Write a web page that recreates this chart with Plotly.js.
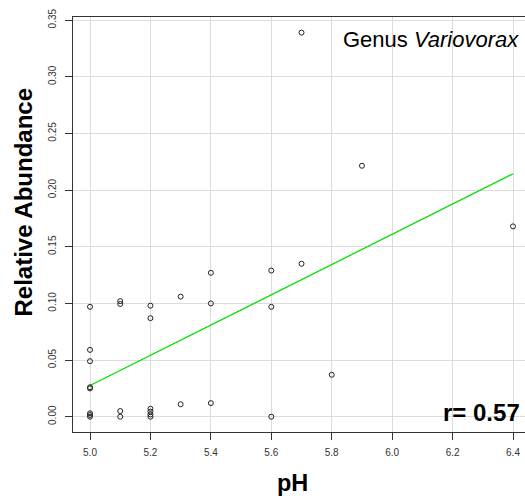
<!DOCTYPE html>
<html>
<head>
<meta charset="utf-8">
<script src="https://cdn.plot.ly/plotly-3.0.1.min.js"></script>
<style>html,body{margin:0;padding:0;background:#fff;}#chart{width:525px;height:499px;}</style>
</head>
<body>
<div id="chart"></div>
<script>
// Data (pH vs relative abundance of genus Variovorax)
const pH = [5.0,5.0,5.0,5.0,5.0,5.0,5.0,5.0,
            5.1,5.1,5.1,5.1,
            5.2,5.2,5.2,5.2,5.2,5.2,
            5.3,5.3,
            5.4,5.4,5.4,
            5.6,5.6,5.6,
            5.7,5.7,
            5.8,
            5.9,
            6.4];
const abundance = [0.097,0.059,0.049,0.026,0.025,0.003,0.0015,0.0,
                   0.102,0.0995,0.005,0.0,
                   0.098,0.087,0.007,0.0045,0.002,0.0,
                   0.106,0.011,
                   0.127,0.100,0.012,
                   0.129,0.097,0.0,
                   0.339,0.135,
                   0.037,
                   0.2215,
                   0.168];
const xTicks = [5.0,5.2,5.4,5.6,5.8,6.0,6.2,6.4];
const xTickText = ["5.0","5.2","5.4","5.6","5.8","6.0","6.2","6.4"];
const yTicks = [0.00,0.05,0.10,0.15,0.20,0.25,0.30,0.35];
const yTickText = ["0.00","0.05","0.10","0.15","0.20","0.25","0.30","0.35"];
const rLabel = "r= 0.57";

// Least-squares fit computed from the data
const n = pH.length;
const mx = pH.reduce((a,b)=>a+b,0)/n;
const my = abundance.reduce((a,b)=>a+b,0)/n;
let sxy = 0, sxx = 0;
for (let i=0;i<n;i++){ sxy += (pH[i]-mx)*(abundance[i]-my); sxx += (pH[i]-mx)*(pH[i]-mx); }
const slope = sxy/sxx, intercept = my - slope*mx;
const xMin = Math.min(...pH), xMax = Math.max(...pH);
const fitX = [xMin, xMax];
const fitY = fitX.map(x => intercept + slope*x);

const font = "Arial, 'Liberation Sans', Helvetica, sans-serif";

const traces = [
  {x: fitX, y: fitY, mode: 'lines', type: 'scatter',
   line: {color: '#00e000', width: 1.3}, hoverinfo: 'skip'},
  {x: pH, y: abundance, mode: 'markers', type: 'scatter',
   marker: {symbol: 'circle-open', size: 5, color: '#222', line: {width: 1, color: '#222'}}}
];

const layout = {
  width: 525, height: 499,
  margin: {l: 73, r: 0, t: 17, b: 67, pad: 0},
  paper_bgcolor: '#fff', plot_bgcolor: '#fff',
  showlegend: false,
  font: {family: font, color: '#333', size: 10},
  xaxis: {
    range: [4.9437, 6.4397], tickvals: xTicks, ticktext: xTickText,
    showgrid: true, gridcolor: '#dcdcdc', gridwidth: 1,
    zeroline: false, showline: true, linecolor: '#333', linewidth: 1, mirror: true,
    ticks: 'outside', ticklen: 7, tickcolor: '#333', tickwidth: 1,
    tickfont: {family: font, size: 10, color: '#333'}, ticklabelstandoff: 4
  },
  yaxis: {
    range: [-0.0135, 0.3528], tickvals: yTicks, ticktext: yTickText,
    showgrid: true, gridcolor: '#dcdcdc', gridwidth: 1,
    zeroline: false, showline: true, linecolor: '#333', linewidth: 1, mirror: false,
    ticks: 'outside', ticklen: 7, tickcolor: '#333', tickwidth: 1, tickangle: -90,
    tickfont: {family: font, size: 10, color: '#333'}, ticklabelstandoff: 5
  },
  annotations: [
    {text: 'Genus <i>Variovorax</i>', xref: 'paper', yref: 'paper', x: 0.991, y: 0.9458,
     xanchor: 'right', yanchor: 'middle', showarrow: false,
     font: {family: font, size: 22, color: '#000'}},
    {text: '<b>' + rLabel + '</b>', xref: 'paper', yref: 'paper', x: 0.9927, y: 0.0475,
     xanchor: 'right', yanchor: 'middle', showarrow: false,
     font: {family: font, size: 24, color: '#000'}},
    {text: '<b>pH</b>', xref: 'paper', yref: 'paper', x: 0.4856, y: -0.1224,
     xanchor: 'center', yanchor: 'middle', showarrow: false,
     font: {family: font, size: 23.5, color: '#000'}},
    {text: '<b>Relative Abundance</b>', xref: 'paper', yref: 'paper', x: -0.1084, y: 0.553,
     xanchor: 'center', yanchor: 'middle', showarrow: false, textangle: -90,
     font: {family: font, size: 24, color: '#000'}}
  ]
};

Plotly.newPlot('chart', traces, layout, {displayModeBar: false, staticPlot: true});
</script>
</body>
</html>
